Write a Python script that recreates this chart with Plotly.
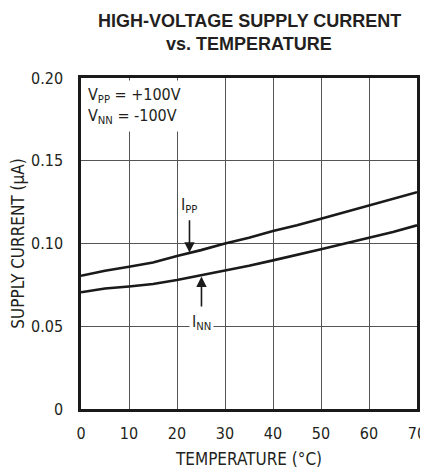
import plotly.graph_objects as go

temps = [0, 5, 10, 15, 20, 25, 30, 35, 40, 45, 50, 55, 60, 65, 70]
i_pp = [0.0805, 0.0835, 0.086, 0.0885, 0.0925, 0.096, 0.100, 0.1035, 0.1075, 0.111, 0.115, 0.119, 0.123, 0.127, 0.131]
i_nn = [0.0705, 0.0728, 0.074, 0.0755, 0.078, 0.0808, 0.0836, 0.0866, 0.0898, 0.093, 0.0965, 0.100, 0.1035, 0.107, 0.111]

x_ticks = [0, 10, 20, 30, 40, 50, 60, 70]
y_ticks = [0, 0.05, 0.10, 0.15, 0.20]
y_tick_text = ["0", "0.05", "0.10", "0.15", "0.20"]

title_lines = ["HIGH-VOLTAGE SUPPLY CURRENT", "vs. TEMPERATURE"]

NARROW = "Liberation Sans Narrow, Arial Narrow, DejaVu Sans Condensed, sans-serif"
BOLD = "Liberation Sans, Arial, sans-serif"

fig = go.Figure()
fig.add_trace(go.Scatter(x=temps, y=i_pp, mode="lines", line=dict(color="#1a1a1a", width=2.6), showlegend=False))
fig.add_trace(go.Scatter(x=temps, y=i_nn, mode="lines", line=dict(color="#1a1a1a", width=2.6), showlegend=False))

# page body has an 8px margin, so the figure is 8px smaller and offset
fig.update_layout(
    width=420, height=461,
    margin=dict(l=73, r=11, t=70, b=60, autoexpand=False),
    paper_bgcolor="white", plot_bgcolor="white",
    font=dict(family=NARROW, size=16, color="#231f20"),
)

fig.update_xaxes(
    range=[0, 70], tickvals=x_ticks, showgrid=True, gridcolor="#555555", gridwidth=1,
    showline=True, linecolor="#1a1a1a", linewidth=2.5, mirror=True, automargin=True,
    ticks="", ticklabelstandoff=8, zeroline=False,
    title=dict(text="TEMPERATURE (°C)", font=dict(size=17), standoff=16),
)
fig.update_yaxes(
    range=[0, 0.20], tickvals=y_ticks, ticktext=y_tick_text, showgrid=True, gridcolor="#555555", gridwidth=1,
    showline=True, linecolor="#1a1a1a", linewidth=2.5, mirror=True, automargin=True,
    ticks="", ticklabelstandoff=12, zeroline=False,
    title=dict(text="SUPPLY CURRENT (µA)", font=dict(size=17), standoff=4),
)

# title lines
fig.add_annotation(xref="paper", yref="paper", x=0.5, y=1.1737, xanchor="center", yanchor="middle",
                   text=title_lines[0], showarrow=False,
                   font=dict(family=BOLD, size=18, color="#231f20", weight="bold"))
fig.add_annotation(xref="paper", yref="paper", x=0.5, y=1.1042, xanchor="center", yanchor="middle",
                   text=title_lines[1], showarrow=False,
                   font=dict(family=BOLD, size=18, color="#231f20", weight="bold"))

# condition box (covers gridlines)
fig.add_annotation(
    xref="paper", yref="paper", x=0.005, y=0.995, xanchor="left", yanchor="top",
    text="V<sub>PP</sub> = +100V<br>V<sub>NN</sub> = -100V", align="left",
    showarrow=False, bgcolor="white", borderpad=4, font=dict(size=16),
)

# I_PP label with arrow
fig.add_annotation(
    x=22.6, y=0.0945, ax=22.6, ay=0.115, xref="x", yref="y", axref="x", ayref="y",
    text="", showarrow=True, arrowhead=2, arrowsize=1.3, arrowwidth=1.6, arrowcolor="#1a1a1a",
)
fig.add_annotation(
    x=22.4, y=0.1232, xref="x", yref="y", text="I<sub>PP</sub>", showarrow=False,
    bgcolor="white", borderpad=1, font=dict(size=16),
)
# I_NN label with arrow
fig.add_annotation(
    x=25.1, y=0.0800, ax=25.1, ay=0.061, xref="x", yref="y", axref="x", ayref="y",
    text="", showarrow=True, arrowhead=2, arrowsize=1.3, arrowwidth=1.6, arrowcolor="#1a1a1a",
)
fig.add_annotation(
    x=25.2, y=0.052, xref="x", yref="y", text="I<sub>NN</sub>", showarrow=False,
    bgcolor="white", borderpad=2, font=dict(size=16),
)

# side code
fig.add_annotation(
    xref="paper", yref="paper", x=1.0, y=1.0, xshift=9, yshift=3, xanchor="center", yanchor="top",
    text="MAX14800 toc07", textangle=-90, showarrow=False, font=dict(size=9),
)

fig.write_html("out.html")
